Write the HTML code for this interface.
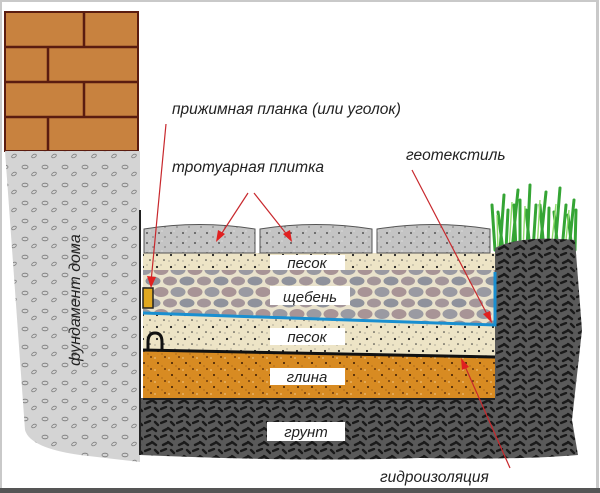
<!DOCTYPE html>
<html><head><meta charset="utf-8"><style>
html,body{margin:0;padding:0;background:#fff;}
svg{display:block;}
text{font-family:"Liberation Sans","DejaVu Sans",sans-serif;font-style:italic;}
</style></head><body>
<svg width="600" height="493" viewBox="0 0 600 493" xmlns="http://www.w3.org/2000/svg">
<defs>
<pattern id="sand" width="14" height="12" patternUnits="userSpaceOnUse">
<rect width="14" height="12" fill="#ede4c6"/>
<circle cx="3" cy="3" r="1.1" fill="#222"/><circle cx="10" cy="8" r="0.8" fill="#333"/><circle cx="7" cy="1" r="0.5" fill="#555"/><circle cx="1" cy="9" r="0.5" fill="#555"/>
</pattern>
<pattern id="clay" width="14" height="12" patternUnits="userSpaceOnUse">
<rect width="14" height="12" fill="#d88b22"/>
<circle cx="4" cy="3" r="1" fill="#3a1a05"/><circle cx="11" cy="9" r="0.9" fill="#4a2005"/><circle cx="8" cy="6" r="0.5" fill="#6a3a10"/><circle cx="1" cy="10" r="0.6" fill="#fff3d0"/>
</pattern>
<pattern id="tile" width="12" height="10" patternUnits="userSpaceOnUse">
<rect width="12" height="10" fill="#c4c4c4"/>
<circle cx="3" cy="3" r="0.9" fill="#333"/><circle cx="9" cy="7" r="0.6" fill="#444"/><circle cx="6" cy="1" r="0.5" fill="#fff"/>
</pattern>
<pattern id="soil" width="16" height="14" patternUnits="userSpaceOnUse">
<rect width="16" height="14" fill="#5a5a5a"/>
<path d="M1 3 l5 -2 M8 8 l4 3 M3 11 l4 -2 M11 2 l3 3" stroke="#1a1a1a" stroke-width="2.4" stroke-linecap="round"/>
</pattern>
<pattern id="found" width="20" height="18" patternUnits="userSpaceOnUse">
<rect width="20" height="18" fill="#d4d4d4"/>
<ellipse cx="5" cy="5" rx="3" ry="1.8" fill="none" stroke="#777" stroke-width="0.8"/>
<ellipse cx="14" cy="12" rx="2.5" ry="1.5" fill="none" stroke="#777" stroke-width="0.8" transform="rotate(-30 14 12)"/>
</pattern>
<pattern id="grav" width="34" height="22" patternUnits="userSpaceOnUse">
<rect width="34" height="22" fill="#e9e2cc"/>
<ellipse cx="8" cy="6" rx="7.5" ry="5" fill="#9a9aa2"/><ellipse cx="25" cy="6" rx="7.5" ry="5" fill="#a89496"/>
<ellipse cx="17" cy="17" rx="7.5" ry="4.5" fill="#8f929c"/><ellipse cx="0" cy="17" rx="7" ry="4.5" fill="#a4969a"/><ellipse cx="34" cy="17" rx="7" ry="4.5" fill="#a4969a"/>
</pattern>
</defs>
<rect width="600" height="493" fill="#fff"/>
<rect x="0.5" y="0.5" width="597" height="489" fill="none" stroke="#c9c9c9" stroke-width="3"/>
<rect x="0" y="488" width="600" height="5" fill="#555"/>
<rect x="5" y="12" width="133" height="139" fill="#c8823f" stroke="#5a1c10" stroke-width="2"/>
<g stroke="#5a1c10" stroke-width="2.5">
<line x1="5" y1="47" x2="138" y2="47"/><line x1="5" y1="82" x2="138" y2="82"/><line x1="5" y1="117" x2="138" y2="117"/>
<line x1="84" y1="12" x2="84" y2="47"/><line x1="48" y1="47" x2="48" y2="82"/><line x1="84" y1="82" x2="84" y2="117"/><line x1="48" y1="117" x2="48" y2="151"/>
</g>
<path d="M5 151 L140 151 L140 462 L80 455 Q30 448 25 430 L5 151 Z" fill="url(#found)"/>
<g stroke="#35a535" stroke-width="3" stroke-linecap="round">
<path d="M495 250 L492 205 M500 250 L504 195 M506 250 L508 210 M512 250 L518 190 M520 250 L520 200 M527 250 L530 185 M533 250 L536 205 M540 250 L546 192 M548 250 L549 208 M555 250 L560 188 M562 250 L566 205 M569 250 L574 200 M575 250 L576 210 M503 250 L498 212 M516 250 L514 205 M530 250 L526 210 M544 250 L540 205 M558 250 L554 212 M572 250 L568 215"/>
</g>
<g stroke="#8fdc6a" stroke-width="1.4"><path d="M498 250 L497 215 M509 250 L512 202 M523 250 L525 206 M537 250 L540 200 M551 250 L556 204 M565 250 L569 210"/></g>
<path d="M140 398 L495 398 L495 248 Q520 235 575 240 L582 330 L572 420 L578 455 Q520 460 420 458 Q300 462 140 455 Z" fill="url(#soil)"/>
<line x1="140" y1="210" x2="140" y2="455" stroke="#222" stroke-width="2"/>
<path d="M143 350 L495 357 L495 398 L143 398 Z" fill="url(#clay)"/>
<path d="M143 313 L495 325 L495 357 L143 350 Z" fill="url(#sand)"/>
<path d="M143 270 L495 270 L495 325 L143 313 Z" fill="url(#grav)"/>
<rect x="143" y="253" width="352" height="17" fill="url(#sand)"/>
<g fill="url(#tile)" stroke="#555" stroke-width="1">
<path d="M144 253 L144 229 Q199 220 255 229 L255 253 Z"/>
<path d="M260 253 L260 229 Q316 220 372 229 L372 253 Z"/>
<path d="M377 253 L377 229 Q433 220 490 229 L490 253 Z"/>
</g>
<path d="M143 313 L495 325 L495 272" fill="none" stroke="#1a8fd0" stroke-width="3"/>
<path d="M143 350 L495 357" stroke="#111" stroke-width="3"/>
<rect x="143" y="288" width="10" height="20" fill="#e0a820" stroke="#222" stroke-width="1.5"/>
<path d="M148 350 L148 342 Q148 333 155 333 Q162 333 162 342 L162 350" fill="none" stroke="#111" stroke-width="3"/>
<rect x="143" y="398" width="352" height="2" fill="#222"/>
<g fill="#fff">
<rect x="270" y="255" width="75" height="15"/><rect x="270" y="286" width="80" height="19"/>
<rect x="270" y="328" width="75" height="17"/><rect x="270" y="368" width="75" height="17"/>
<rect x="267" y="422" width="78" height="19"/>
</g>
<g font-size="15" fill="#222" text-anchor="middle">
<text x="307" y="268">песок</text><text x="310" y="302">щебень</text>
<text x="307" y="342">песок</text><text x="307" y="382">глина</text><text x="306" y="437">грунт</text>
</g>
<g font-size="15.5" fill="#222">
<text x="172" y="114">прижимная планка (или уголок)</text>
<text x="172" y="172">тротуарная плитка</text>
<text x="406" y="160">геотекстиль</text>
<text x="380" y="482">гидроизоляция</text>
<text transform="translate(80 300) rotate(-90)" text-anchor="middle" font-size="16">фундамент дома</text>
</g>
<g stroke="#c8282d" stroke-width="1.2" fill="none">
<line x1="166" y1="124" x2="151" y2="282"/>
<line x1="248" y1="193" x2="220" y2="236"/><line x1="254" y1="193" x2="288" y2="236"/>
<line x1="412" y1="170" x2="489" y2="318"/>
<line x1="510" y1="468" x2="464" y2="364"/>
</g>
<g fill="#e02020">
<path d="M151 288 L147 276 L156 277 Z"/>
<path d="M216 242 L218 230 L225 234 Z"/><path d="M292 242 L283 234 L290 230 Z"/>
<path d="M492 323 L483 314 L490 311 Z"/>
<path d="M461 358 L469 367 L462 370 Z"/>
</g>
</svg>
</body></html>
